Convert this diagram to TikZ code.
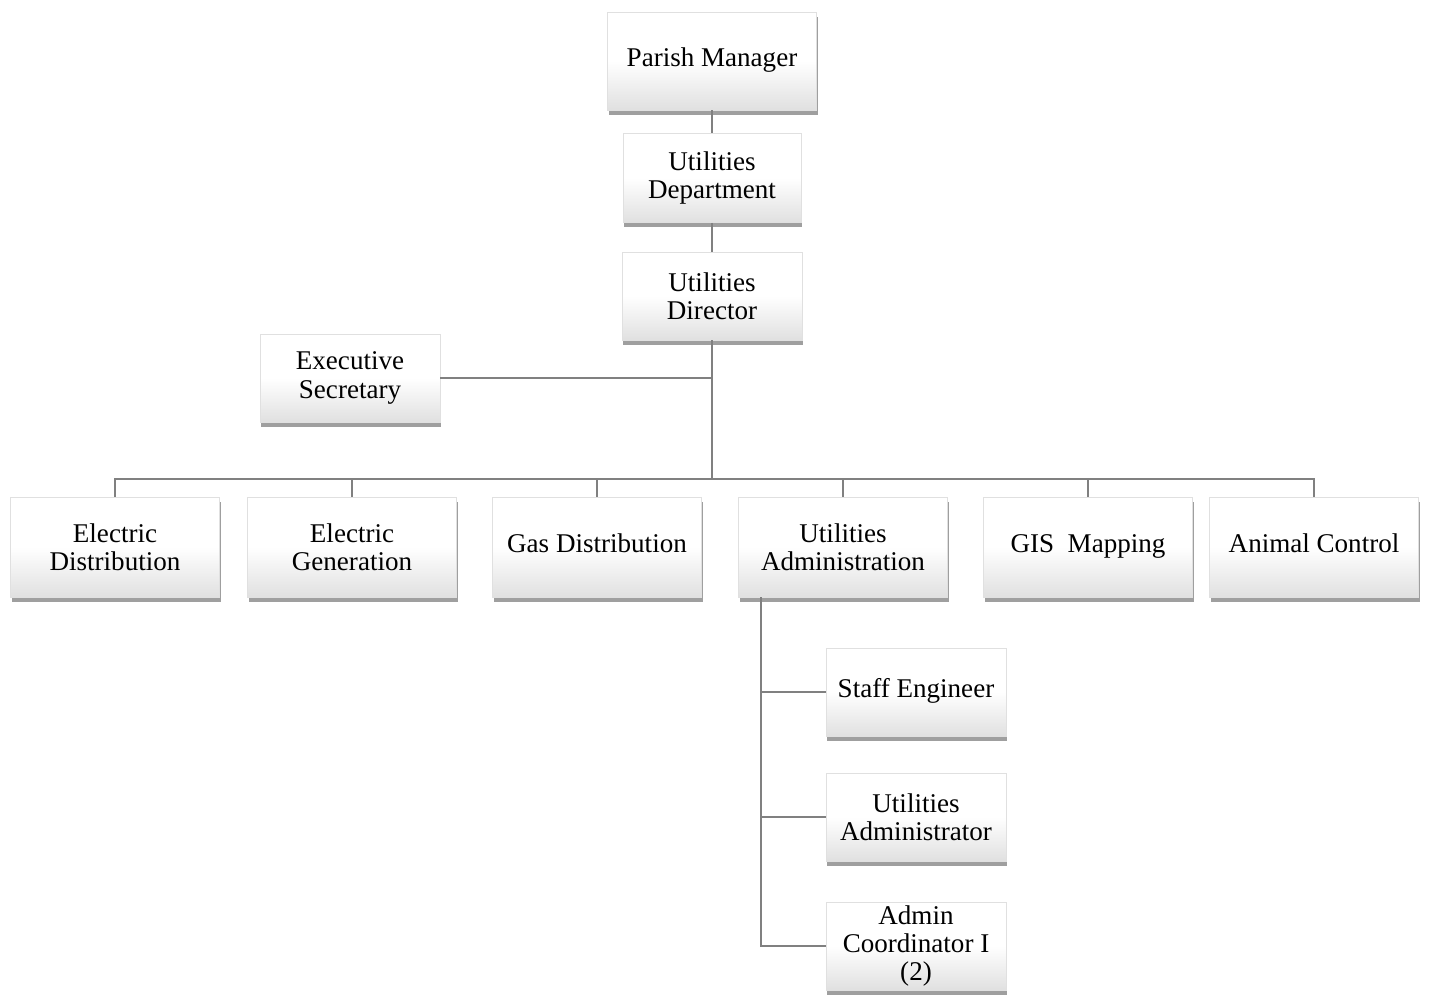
\documentclass[tikz,border=0pt]{standalone}
\usepackage{fontspec}
\setmainfont{Liberation Serif}
\usetikzlibrary{positioning,calc,shadows}
\definecolor{LineGray}{RGB}{128,128,128}
\definecolor{BoxBottom}{RGB}{224,224,224}
\definecolor{ShadowGray}{RGB}{80,80,80}
\tikzset{
  line/.style={draw=LineGray,line width=1.3pt},
  unitbox/.style={top color=white,bottom color=BoxBottom,middle color=white,
    draw=black!12,line width=0.3pt,inner sep=0pt,align=center,
    font=\fontsize{15.4}{16}\selectfont,
    drop shadow={shadow xshift=0.6pt,shadow yshift=-2.8pt,opacity=0.55,fill=ShadowGray}},
  widebox/.style={unitbox,minimum width=4.18cm,minimum height=2.0cm},
  smallbox/.style={unitbox,minimum width=3.6cm,minimum height=1.76cm}
}
\begin{document}
\begin{tikzpicture}[x=0.02cm,y=-0.02cm]
  \useasboundingbox (0,0) rectangle (1432,994);
  % top of the chart
  \node[widebox,minimum height=1.96cm] (pm) at (712,61) {\strut Parish Manager};
  \node[unitbox,minimum width=3.56cm,minimum height=1.78cm] (dept) at (712,178) {Utilities\\Department};
  \node[smallbox] (dir) at (712,296) {Utilities\\Director};
  \node[smallbox] (sec) at (350,378) {Executive\\Secretary};
  \coordinate (bus) at (712,479);
  \draw[line] (pm.south) -- (dept.north);
  \draw[line] (dept.south) -- (dir.north);
  \draw[line] (dir.south) -- (bus);
  \draw[line] (sec.east) -- (sec.east -| bus);
  % divisions
  \node[widebox] (ed) at (115,547) {Electric\\Distribution};
  \node[widebox] (eg) at (352,547) {Electric\\Generation};
  \node[widebox] (gd) at (597,547) {\strut Gas Distribution};
  \node[widebox] (ua) at (843,547) {Utilities\\Administration};
  \node[widebox] (gis) at (1088,547) {\strut GIS\ \ Mapping};
  \node[widebox] (anc) at (1314,547) {\strut Animal Control};
  \foreach \n in {ed,eg,gd,ua,gis,anc}
    \draw[line] (\n.north) |- (bus);
  % under utilities administration
  \node[smallbox] (se) at (916,692) {\strut Staff Engineer};
  \node[smallbox] (uadm) at (916,817) {Utilities\\Administrator};
  \node[smallbox] (aci) at (916,946) {Admin\\Coordinator I\\(2)};
  \coordinate (spine) at ($(ua.south west)+(23,0)$);
  \foreach \n in {se,uadm,aci}
    \draw[line] (spine) |- (\n.west);
\end{tikzpicture}
\end{document}
